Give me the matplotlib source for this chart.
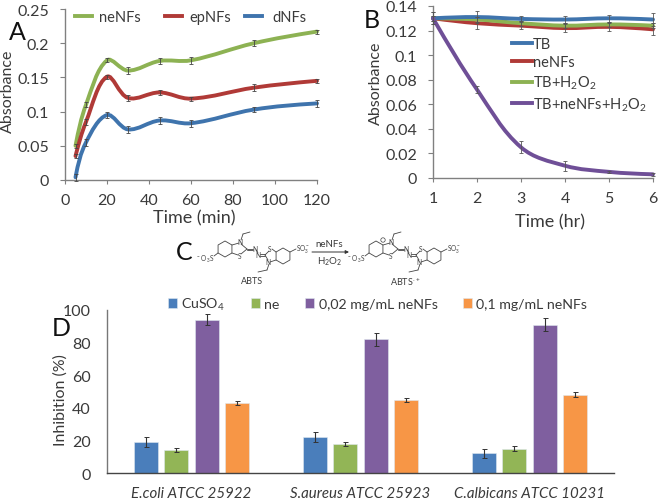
import numpy as np
import matplotlib
matplotlib.use('Agg')
import matplotlib.pyplot as plt
from matplotlib.path import Path
from matplotlib.patches import PathPatch, Polygon, Circle
from matplotlib.lines import Line2D
from matplotlib.transforms import Affine2D

plt.rcParams['font.family'] = ['Lato', 'DejaVu Sans']
plt.rcParams['mathtext.default'] = 'regular'

W, H = 658, 502
TXT = '#3a3a3a'
AX = '#808080'

time_a = [5, 10, 20, 30, 45, 60, 90, 120]
nenfs_a = [0.050, 0.110, 0.175, 0.160, 0.174, 0.175, 0.200, 0.217]
epnfs_a = [0.035, 0.085, 0.151, 0.120, 0.128, 0.119, 0.135, 0.145]
dnfs_a = [0.004, 0.055, 0.095, 0.074, 0.087, 0.083, 0.103, 0.112]
err_ne_a = [0.003, 0.004, 0.003, 0.005, 0.004, 0.005, 0.004, 0.003]
err_ep_a = [0.003, 0.004, 0.003, 0.005, 0.003, 0.003, 0.005, 0.003]
err_d_a = [0.005, 0.005, 0.004, 0.005, 0.005, 0.005, 0.004, 0.005]
labels_a = ['neNFs', 'epNFs', 'dNFs']

time_b = [1, 2, 3, 4, 5, 6]
tb_b = [0.130, 0.131, 0.1295, 0.129, 0.130, 0.129]
ne_b = [0.130, 0.126, 0.124, 0.122, 0.123, 0.121]
h2o2_b = [0.130, 0.129, 0.126, 0.124, 0.125, 0.124]
mix_b = [0.130, 0.072, 0.025, 0.010, 0.005, 0.003]
err_tb_b = [0.005, 0.005, 0.002, 0.003, 0.003, 0.005]
err_ne_b = [0.005, 0.005, 0.003, 0.003, 0.003, 0.005]
err_h2o2_b = [0.002, 0.002, 0.002, 0.002, 0.002, 0.002]
err_mix_b = [0.002, 0.003, 0.005, 0.004, 0.001, 0.001]
labels_b = ['TB', 'neNFs', 'TB+H$_2$O$_2$', 'TB+neNFs+H$_2$O$_2$']

strains = ['E.coli ATCC 25922', 'S.aureus ATCC 25923', 'C.albicans ATCC 10231']
labels_d = ['CuSO$_4$', 'ne', '0,02 mg/mL neNFs', '0,1 mg/mL neNFs']
cuso4 = [19, 22, 12]
ne = [14, 18, 15]
conc_002 = [94, 82, 91]
conc_01 = [43, 45, 48]
err_cuso4 = [3, 3, 3]
err_ne = [1.2, 1.3, 1.5]
err_002 = [3.5, 3.8, 3.8]
err_01 = [1.3, 1.3, 1.5]

BLUE, RED, GREEN, PURPLE, ORANGE = '#3f74ad', '#b03a37', '#8db253', '#6f4f97', '#f79646'
BAR_BLUE, BAR_GREEN, BAR_PURPLE = '#4a7ebb', '#92b556', '#7f5f9f'

fig = plt.figure(figsize=(W / 100, H / 100), dpi=100)
PX = Affine2D().scale(1 / W, -1 / H).translate(0, 1) + fig.transFigure


def axes_px(l, t, r, b):
    return fig.add_axes([l / W, 1 - b / H, (r - l) / W, (b - t) / H])


def smooth(ax, x, y, color, sx, sy, lw=2.8, z=3):
    """Spline through the read points, as a spreadsheet's smoothed line draws it."""
    x = np.asarray(x, float)
    y = np.asarray(y, float)
    p = np.column_stack([x, y])
    n = len(x)
    scale = np.array([sx, sy])
    seg = np.hypot(*((p[1:] - p[:-1]) * scale).T)
    after, before = [None] * n, [None] * n
    for i in range(1, n - 1):
        d = p[i + 1] - p[i - 1]
        s = seg[i - 1] + seg[i]
        after[i] = p[i] + d * 0.36 * seg[i] / s
        before[i] = p[i] - d * 0.36 * seg[i - 1] / s
    after[0] = p[0] + (before[1] - p[0]) * 0.6
    before[n - 1] = p[n - 1] + (after[n - 2] - p[n - 1]) * 0.6
    verts, codes = [tuple(p[0])], [Path.MOVETO]
    for i in range(n - 1):
        verts += [tuple(after[i]), tuple(before[i + 1]), tuple(p[i + 1])]
        codes += [Path.CURVE4] * 3
    ax.add_patch(PathPatch(Path(verts, codes), fc='none', ec=color, lw=lw, zorder=z,
                           capstyle='round', clip_on=False))


def style(ax):
    for s in ['top', 'right']:
        ax.spines[s].set_visible(False)
    for s in ['left', 'bottom']:
        ax.spines[s].set_color(AX)
        ax.spines[s].set_linewidth(1.0)
    ax.tick_params(axis='x', colors=TXT, color=AX, width=0.8, length=3, labelsize=11.5, pad=6.5)
    ax.tick_params(axis='y', colors=TXT, color=AX, width=0.8, length=3.5, labelsize=11.5, pad=8)
    ax.patch.set_alpha(0)


def labels(ax, xl, xpos, yl, ypos, xs=13, ys=11.5):
    if xl:
        ax.set_xlabel(xl, fontsize=xs, color=TXT, va='center', ha='center')
        ax.xaxis.set_label_coords(*xpos, transform=PX)
    ax.set_ylabel(yl, fontsize=ys, color=TXT, va='center', ha='center')
    ax.yaxis.set_label_coords(*ypos, transform=PX)


# Panel A
a = axes_px(65, 10, 317, 181)
for yy, ee, c in [(nenfs_a, err_ne_a, GREEN), (epnfs_a, err_ep_a, RED), (dnfs_a, err_d_a, BLUE)]:
    smooth(a, time_a, yy, c, 252 / 120, 171 / 0.25)
    a.errorbar(time_a, yy, yerr=ee, fmt='none', ecolor='#444444', elinewidth=0.6, capsize=1.5,
               capthick=0.6, zorder=4, clip_on=False)
a.set_xlim(0, 120)
a.set_ylim(0, 0.25)
a.set_xticks(range(0, 121, 20))
a.set_yticks([0, 0.05, 0.1, 0.15, 0.2, 0.25])
a.set_yticklabels(['0', '0.05', '0.1', '0.15', '0.2', '0.25'])
style(a)
labels(a, 'Time (min)', (194, 218), 'Absorbance', (8, 91))
for lab, c, x0, pad in [(labels_a[0], GREEN, 75, 0.5), (labels_a[1], RED, 165, 0.5), (labels_a[2], BLUE, 245, 0.75)]:
    leg = a.legend([Line2D([], [], color=c, lw=2.8)], [lab], loc='center left', bbox_to_anchor=(x0, 18),
                   bbox_transform=PX, frameon=False, fontsize=10.5, labelcolor=TXT, handlelength=1.15,
                   handletextpad=pad, borderaxespad=0, borderpad=0)
    a.add_artist(leg)
a.legend_ = None

# Panel B
b = axes_px(433, 7, 653, 179)
for yy, ee, c in [(ne_b, err_ne_b, RED), (h2o2_b, err_h2o2_b, GREEN), (tb_b, err_tb_b, BLUE), (mix_b, err_mix_b, PURPLE)]:
    smooth(b, time_b, yy, c, 220 / 5, 172 / 0.14)
    b.errorbar(time_b, yy, yerr=ee, fmt='none', ecolor='#555555', elinewidth=0.6, capsize=1.5,
               capthick=0.6, zorder=4, clip_on=False)
b.set_xlim(1, 6)
b.set_ylim(0, 0.14)
b.set_xticks(time_b)
b.set_yticks(np.arange(0, 0.141, 0.02))
b.set_yticklabels(['0', '0.02', '0.04', '0.06', '0.08', '0.1', '0.12', '0.14'])
style(b)
labels(b, 'Time (hr)', (550, 222), 'Absorbance', (376, 83))
h = [Line2D([], [], color=c, lw=2.8) for c in (BLUE, RED, GREEN, PURPLE)]
b.legend(h, labels_b, loc='upper left', bbox_to_anchor=(512, 38), bbox_transform=PX, frameon=False,
         fontsize=10.5, labelcolor=TXT, handlelength=1.38, handletextpad=0.07, labelspacing=0.3,
         borderaxespad=0, borderpad=0)

# Panel D
d = axes_px(107, 311, 614, 474)
xg = np.arange(3)
step = 30.5 / 169
bw = 24 / 169
for i, (vals, errs, c, lab) in enumerate([(cuso4, err_cuso4, BAR_BLUE, labels_d[0]), (ne, err_ne, BAR_GREEN, labels_d[1]),
                                          (conc_002, err_002, BAR_PURPLE, labels_d[2]), (conc_01, err_01, ORANGE, labels_d[3])]):
    d.bar(xg + (i - 1.5) * step, vals, bw, color=c, label=lab, edgecolor='#dfe8f0', linewidth=0.4,
          yerr=errs, error_kw=dict(ecolor='#333333', elinewidth=0.8, capsize=1.8, capthick=0.7))
d.set_xlim(-0.5, 2.5)
d.set_ylim(0, 100)
d.set_yticks(range(0, 101, 20))
d.set_xticks(xg)
d.set_xticklabels(strains, fontstyle='italic', color='#222222')
style(d)
d.spines['left'].set_color('#777777')
d.spines['bottom'].set_color('#444444')
d.tick_params(axis='x', length=0, pad=9.5, labelsize=10.8)
d.tick_params(axis='y', length=0, pad=11.5)
labels(d, None, None, 'Inhibition (%)', (61, 400))
d.legend(ncol=4, loc='center left', bbox_to_anchor=(168, 305), bbox_transform=PX, frameon=False, fontsize=10.2,
         labelcolor=TXT, handlelength=0.65, handleheight=0.65, handletextpad=0.3, columnspacing=1.8,
         borderaxespad=0, borderpad=0)

# Overlay in pixel coordinates: panel letters and the scheme of panel C
o = fig.add_axes([0, 0, 1, 1])
o.set_xlim(0, W)
o.set_ylim(H, 0)
o.axis('off')
o.patch.set_alpha(0)
for s, x, y in [('A', 9, 32), ('B', 364, 20), ('C', 176, 253), ('D', 52, 329)]:
    o.text(x, y, s, fontsize=18, color='#111111', ha='left', va='center')

LC = '#444444'
FS = 4.8


def line(p, q, dx, lw=0.6):
    o.plot([p[0] + dx, q[0] + dx], [p[1], q[1]], color=LC, lw=lw, solid_capstyle='round')


def hexagon(cx, cy, dx):
    pts = [(cx + dx + 8 * np.cos(np.radians(30 + 60 * k)), cy + 8 * np.sin(np.radians(30 + 60 * k))) for k in range(6)]
    o.add_patch(Polygon(pts, closed=True, fc='none', ec=LC, lw=0.6))


def label(x, y, s, dx, ha='center'):
    o.text(x + dx, y, s, fontsize=FS, ha=ha, va='center', color=LC)


def molecule(dx):
    hexagon(225, 250, dx)
    line((232, 246), (239, 244), dx)
    line((232, 254), (238, 256), dx)
    line((241, 245), (247, 250), dx)
    line((241, 255), (247, 250), dx)
    label(240, 243, 'N', dx)
    label(240, 257, 'S', dx)
    line((241, 241), (243, 235), dx)
    line((243, 235), (250, 233), dx)
    line((247, 249.5), (253, 249.5), dx)
    line((247, 251), (253, 251), dx)
    label(255, 250, 'N', dx)
    line((256, 251), (258, 254), dx)
    label(258, 256, 'N', dx)
    line((260, 255), (265, 255), dx)
    line((260, 256.5), (265, 256.5), dx)
    line((265, 256), (269, 252), dx)
    line((265, 256), (268, 261), dx)
    label(270, 250, 'S', dx)
    label(268, 263, 'N', dx)
    line((272, 250), (276, 253), dx)
    line((270, 263), (276, 261), dx)
    hexagon(283, 257, dx)
    line((269, 265), (267, 271), dx)
    line((267, 271), (258, 273), dx)
    line((290, 253), (296, 250), dx)
    label(296, 249, 'SO$_3^-$', dx, ha='left')
    line((218, 254), (214, 257), dx)
    label(214, 259, '$^-$O$_3$S', dx, ha='right')


molecule(0)
molecule(151)
o.add_patch(Circle((383, 241), 2.2, fc='none', ec=LC, lw=0.5))
o.annotate('', xy=(349, 253), xytext=(312, 253), arrowprops=dict(arrowstyle='-|>', color='#333333', lw=0.7,
                                                                  mutation_scale=5, shrinkA=0, shrinkB=0))
o.text(329, 245, 'neNFs', fontsize=7, ha='center', va='center', color=TXT)
o.text(330, 262, 'H$_2$O$_2$', fontsize=7, ha='center', va='center', color=TXT)
o.text(252, 282, 'ABTS', fontsize=6.5, ha='center', va='center', color=TXT)
o.text(405, 282, 'ABTS$^{\\cdot+}$', fontsize=6.5, ha='center', va='center', color=TXT)

fig.savefig('out.png', dpi=100)
